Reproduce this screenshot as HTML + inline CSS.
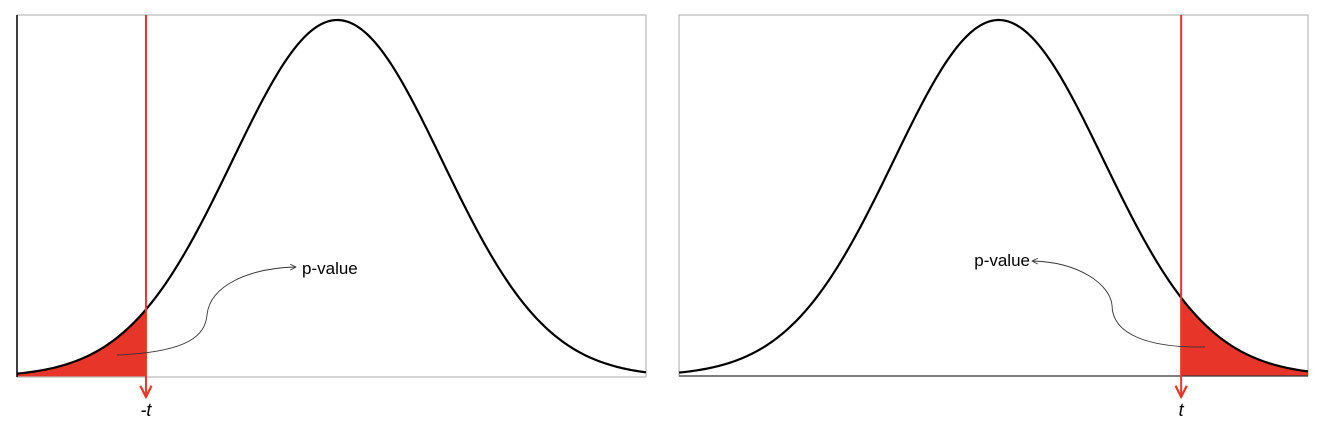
<!DOCTYPE html>
<html><head><meta charset="utf-8"><style>
html,body{margin:0;padding:0;background:#fff;width:1326px;height:428px;overflow:hidden}
svg{display:block;font-family:"Liberation Sans","DejaVu Sans",sans-serif}
</style></head><body>
<svg id="chart" width="1326" height="428" viewBox="0 0 1326 428">
<defs>
<marker id="ah" viewBox="0 0 10 10" refX="9" refY="5" markerWidth="8" markerHeight="8" orient="auto"><path d="M1,1 L9,5 L1,9" fill="none" stroke="#333" stroke-width="1.2"/></marker>
<marker id="rh" viewBox="0 0 10 10" refX="9" refY="5" markerWidth="7" markerHeight="7" orient="auto"><path d="M1,1 L9,5 L1,9" fill="none" stroke="#e8352a" stroke-width="1.6"/></marker>
</defs>
</svg>
<script>
// data (standard units)
const panels = ["left-tail", "right-tail"];
const means = [0.055, 0.05];
const tValues = [-1.77, 1.79];
const sdRange = [-3, 3];
const pLabels = ["p-value", "p-value"];
const tLabels = ["-t", "t"];

const NS = "http://www.w3.org/2000/svg";
const svg = document.getElementById('chart');
const boxes = [{x0:17,x1:646,y0:15,y1:377},{x0:679,x1:1308,y0:15,y1:376}];
function mk(tag, attrs, parent){const e=document.createElementNS(NS,tag);for(const k in attrs)e.setAttribute(k,attrs[k]);(parent||svg).appendChild(e);return e;}

panels.forEach((p,i)=>{
  const b=boxes[i];
  const m=means[i];
  const pdf=z=>Math.exp(-(z-m)*(z-m)/2);
  const g=mk('g',{});
  
  
  const xs=z=>b.x0+(z-sdRange[0])/(sdRange[1]-sdRange[0])*(b.x1-b.x0);
  const ys=d=>b.y1-d*(b.y1-b.y0-5);
  const frame=mk('rect',{x:b.x0,y:b.y0,width:b.x1-b.x0,height:b.y1-b.y0,fill:'none',stroke:'#aaa','stroke-width':1},g);
  
  
  const t=tValues[i];
  let za=i===0?sdRange[0]:t, zb=i===0?t:sdRange[1];
  let d=`M${xs(za)},${b.y1}`;
  for(let k=0;k<=100;k++){const z=za+(zb-za)*k/100;d+=` L${xs(z).toFixed(2)},${ys(pdf(z)).toFixed(2)}`;}
  d+=` L${xs(zb)},${b.y1} Z`;
  const area=mk('path',{d,fill:'#e8352a'},g);
  
  
  mk('line',{x1:b.x0,y1:b.y1,x2:b.x1,y2:b.y1,stroke:i===0?'#bbb':'#333','stroke-width':1.2},g);
  if(i===0) mk('line',{x1:b.x0,y1:b.y0,x2:b.x0,y2:b.y1,stroke:'#000','stroke-width':1.5},g);
  let c='';
  for(let k=0;k<=300;k++){const z=sdRange[0]+(sdRange[1]-sdRange[0])*k/300;c+=(k?' L':'M')+xs(z).toFixed(2)+','+ys(pdf(z)).toFixed(2);}
  const curve=mk('path',{d:c,fill:'none',stroke:'#000','stroke-width':2.2},g);
  
  
  const tx=xs(t);
  const rl=mk('line',{x1:tx,y1:b.y0,x2:tx,y2:397,stroke:'#e8352a','stroke-width':2,'marker-end':'url(#rh)'},g);
  
  
  const tl=mk('text',{x:tx,y:416,'text-anchor':'middle','font-size':18,'font-style':'italic',fill:'#000'},g);
  tl.textContent=tLabels[i];
  
  
  let ad, lx, ly, anchor;
  if(i===0){ad=`M117,355 C190,352 205,335 207,315 C210,285 250,268 296,267`;lx=302;ly=274;anchor='start';}
  else{ad=`M1205,347 C1150,348 1112,335 1112,305 C1110,285 1080,262 1032,261`;lx=1030;ly=266;anchor='end';}
  const ar=mk('path',{d:ad,fill:'none',stroke:'#333','stroke-width':0.9,'marker-end':'url(#ah)'},g);
  
  
  const pl=mk('text',{x:lx,y:ly,'text-anchor':anchor,'font-size':17,fill:'#000'},g);
  pl.textContent=pLabels[i];
  
  
});
</script>
</body></html>
